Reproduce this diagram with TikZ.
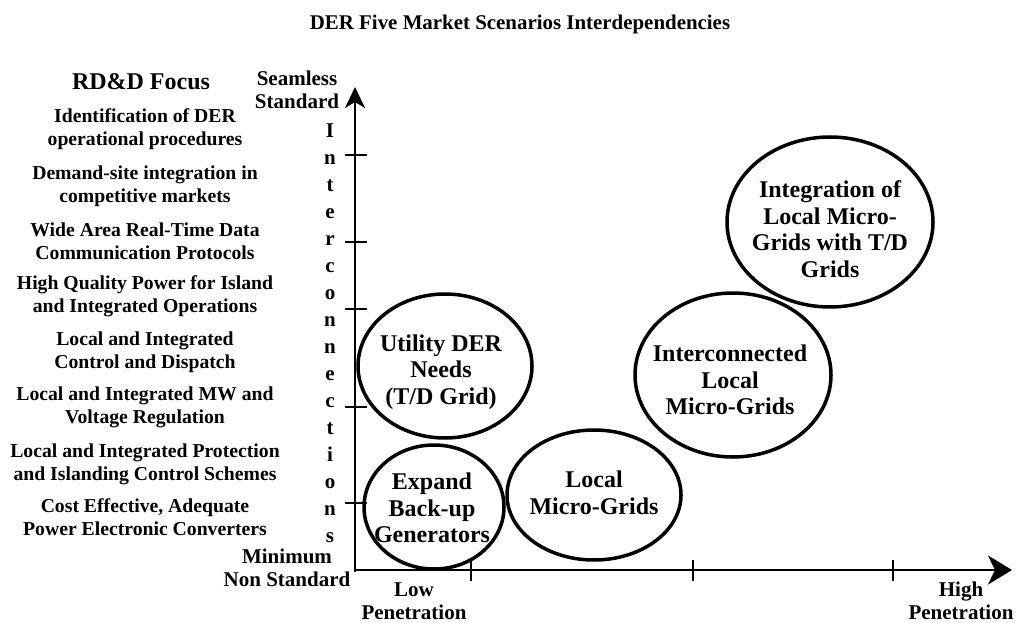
\documentclass[tikz,border=0pt]{standalone}
\usepackage{fontspec}
\setmainfont{Liberation Serif}
\usetikzlibrary{arrows.meta,positioning}

\tikzset{
  focus/.style={align=center, inner sep=0pt,
    font=\bfseries\fontsize{19.7}{23}\selectfont},
  axislabel/.style={align=center, inner sep=0pt,
    font=\bfseries\fontsize{21}{23}\selectfont},
  bubbletext/.style={align=center, inner sep=0pt,
    font=\bfseries\fontsize{24}{26.5}\selectfont},
  bubble/.style={line width=3.5pt},
  axis/.style={line width=2.4pt},
  tickmark/.style={line width=1.8pt},
}

\begin{document}
\begin{tikzpicture}[x=1pt,y=-1pt]
\useasboundingbox (0,0) rectangle (1019,623);

\node[inner sep=0pt, font=\bfseries\fontsize{20.9}{24}\selectfont] (title) at (520,24)
  {DER Five Market Scenarios Interdependencies};

% RD&D focus column
\node[inner sep=0pt, font=\bfseries\fontsize{24}{26}\selectfont] (focus) at (141,82) {RD\&D Focus};
\node[focus] (ident)   at (145,129) {Identification of DER\\operational procedures};
\node[focus] (demand)  at (145,186) {Demand-site integration in\\competitive markets};
\node[focus] (wide)    at (145,241) {Wide Area Real-Time Data\\Communication Protocols};
\node[focus] (quality) at (145,296) {High Quality Power for Island\\and Integrated Operations};
\node[focus] (control) at (145,352) {Local and Integrated\\Control and Dispatch};
\node[focus] (mw)      at (145,407) {Local and Integrated MW and\\Voltage Regulation};
\node[focus] (protect) at (145,464) {Local and Integrated Protection\\and Islanding Control Schemes};
\node[focus] (cost)    at (145,517) {Cost Effective, Adequate\\Power Electronic Converters};

% axes
\coordinate (origin) at (355,570);
\coordinate (ytop) at (355,87);
\coordinate (xend) at (1012,570);
\draw[axis, -{Stealth[length=21pt,width=20pt,inset=6pt]}] (355,572) -- (ytop);
\draw[axis, -{Stealth[length=24pt,width=29pt,inset=7pt]}] (origin) -- (xend);

\draw[tickmark] (345,155) -- (367,155);
\draw[tickmark] (345,242) -- (367,242);
\draw[tickmark] (345,309) -- (367,309);
\draw[tickmark] (345,407) -- (367,407);
\draw[tickmark] (345,503) -- (367,503);
\draw[tickmark] (471,560) -- (471,581);
\draw[tickmark] (693,560) -- (693,581);
\draw[tickmark] (893,560) -- (893,581);

\node[axislabel] (seamless) at (297,90) {Seamless\\Standard};
\node[axislabel] (minimum) at (287,568) {Minimum\\Non Standard};
\node[axislabel] (low) at (414,601) {Low\\Penetration};
\node[axislabel] (high) at (961,601) {High\\Penetration};
\node[align=center, inner sep=0pt, font=\bfseries\fontsize{21}{27}\selectfont] (interconn) at (330,333)
  {I\\n\\t\\e\\r\\c\\o\\n\\n\\e\\c\\t\\i\\o\\n\\s};

% market scenarios
\draw[bubble] (445,366) ellipse [x radius=87pt, y radius=72pt];
\draw[bubble] (434,507) ellipse [x radius=70pt, y radius=62pt];
\draw[bubble] (594,495) ellipse [x radius=87pt, y radius=65pt];
\draw[bubble] (733,375) ellipse [x radius=98pt, y radius=82pt];
\draw[bubble] (830,222) ellipse [x radius=103pt, y radius=85pt];

\node[bubbletext] (utility) at (441,372) {Utility DER\\Needs\\(T/D Grid)};
\node[bubbletext] (expand) at (432,508) {Expand\\Back-up\\Generators};
\node[bubbletext] (local) at (594,493) {Local\\Micro-Grids};
\node[bubbletext] (linked) at (730,380) {Interconnected\\Local\\Micro-Grids};
\node[bubbletext] (integ) at (830,229) {Integration of\\Local Micro-\\Grids with T/D\\Grids};
\end{tikzpicture}
\end{document}
